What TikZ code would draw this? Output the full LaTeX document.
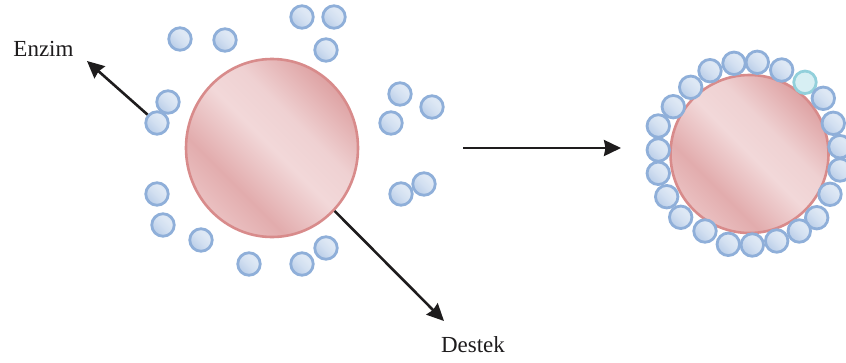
\documentclass[tikz,border=0pt]{standalone}
\usepackage{fontspec}
\setmainfont{Liberation Serif}
\usetikzlibrary{arrows.meta,shapes.geometric}

% colours
\definecolor{ink}{HTML}{1E1C1D}
\definecolor{carrierEdge}{HTML}{D88B8B}
\definecolor{enzEdge}{HTML}{8FAFD9}
\definecolor{enzCyanEdge}{HTML}{92D0DB}
\definecolor{enzCyanFill}{HTML}{D7EFF3}

% shading of the support sphere (rotated so the dark end sits top right)
\pgfdeclareverticalshading{carrier}{100bp}{%
  color(0bp)=(rgb,255:red,234;green,192;blue,193);
  color(25bp)=(rgb,255:red,234;green,192;blue,193);
  color(35bp)=(rgb,255:red,226;green,172;blue,173);
  color(50bp)=(rgb,255:red,242;green,216;blue,217);
  color(60bp)=(rgb,255:red,239;green,209;blue,210);
  color(75bp)=(rgb,255:red,222;green,162;blue,163);
  color(100bp)=(rgb,255:red,222;green,162;blue,163)}

% shading of an enzyme bead
\pgfdeclareverticalshading{bead}{100bp}{%
  color(0bp)=(rgb,255:red,185;green,205;blue,232);
  color(25bp)=(rgb,255:red,185;green,205;blue,232);
  color(48bp)=(rgb,255:red,211;green,224;blue,241);
  color(66bp)=(rgb,255:red,223;green,233;blue,245);
  color(75bp)=(rgb,255:red,213;green,226;blue,242);
  color(100bp)=(rgb,255:red,213;green,226;blue,242)}

\tikzset{
  bead/.style={circle, minimum size=22.5pt, inner sep=0pt, line width=2.8pt,
    draw=enzEdge, shading=bead, shading angle=-45},
  cyanbead/.style={circle, minimum size=22.5pt, inner sep=0pt, line width=2.8pt,
    draw=enzCyanEdge, fill=enzCyanFill},
  carrierball/.style={ellipse, inner sep=0pt, line width=2.6pt,
    draw=carrierEdge, shading=carrier, shading angle=-45},
  arr/.style={draw=ink, line width=2.6pt,
    -{Stealth[length=17pt, width=16pt, inset=1.5pt]}},
  lbl/.style={text=ink, font=\fontsize{23}{23}\selectfont, inner sep=0pt}
}

\begin{document}
\begin{tikzpicture}[x=1pt, y=-1pt]
\useasboundingbox (0,0) rectangle (846,362);
\clip (0,0) rectangle (846,362);

% ---- free enzymes around the support ----
\node[carrierball, minimum width=172pt, minimum height=178pt] (L) at (272,148) {};

\node[bead] (f1)  at (180,39) {};
\node[bead] (f2)  at (225,40) {};
\node[bead] (f3)  at (302,17) {};
\node[bead] (f4)  at (334,17) {};
\node[bead] (f5)  at (326,50) {};
\node[bead] (f6)  at (168,102) {};
\node[bead] (f7)  at (157,123) {};
\node[bead] (f8)  at (400,94) {};
\node[bead] (f9)  at (432,107) {};
\node[bead] (f10) at (391,123) {};
\node[bead] (f11) at (424,184) {};
\node[bead] (f12) at (401,194) {};
\node[bead] (f13) at (157,194) {};
\node[bead] (f14) at (163,225) {};
\node[bead] (f15) at (201,240) {};
\node[bead] (f16) at (249,264) {};
\node[bead] (f17) at (302,264) {};
\node[bead] (f18) at (326,248) {};

% labels and pointers
\node[lbl, anchor=base] (enzim) at (43.5,56) {Enzim};
\node[lbl, anchor=base] (destek) at (473,352) {Destek};
\coordinate (enzimTip) at (87,61);
\coordinate (destekTip) at (444,321);
\draw[arr] (f7) -- (enzimTip);
\draw[arr] (L) -- (destekTip);

% reaction arrow
\coordinate (mStart) at (463,148);
\coordinate (mEnd) at (621,148);
\draw[arr] (mStart) -- (mEnd);

% ---- immobilised enzymes on the support ----
\node[carrierball, minimum width=158pt, minimum height=158pt] (R) at (749.5,154) {};

\node[bead] (r1)  at (658.3,126) {};
\node[bead] (r2)  at (673.3,106.7) {};
\node[bead] (r3)  at (690.7,87.3) {};
\node[bead] (r4)  at (710,70.7) {};
\node[bead] (r5)  at (734,63.3) {};
\node[bead] (r6)  at (757.3,62.3) {};
\node[bead] (r7)  at (781.7,70) {};
\node[cyanbead] (r8) at (805,82.3) {};
\node[bead] (r9)  at (823.3,98.3) {};
\node[bead] (r10) at (833.3,123.3) {};
\node[bead] (r11) at (840,146.7) {};
\node[bead] (r12) at (840,170) {};
\node[bead] (r13) at (830,194.3) {};
\node[bead] (r14) at (816.7,217.7) {};
\node[bead] (r15) at (799.3,231) {};
\node[bead] (r16) at (776.7,241) {};
\node[bead] (r17) at (752.3,245) {};
\node[bead] (r18) at (728.3,244.3) {};
\node[bead] (r19) at (705,231) {};
\node[bead] (r20) at (680.7,217.3) {};
\node[bead] (r21) at (666.7,196.7) {};
\node[bead] (r22) at (658.3,173.3) {};
\node[bead] (r23) at (658.3,150) {};
\end{tikzpicture}
\end{document}
